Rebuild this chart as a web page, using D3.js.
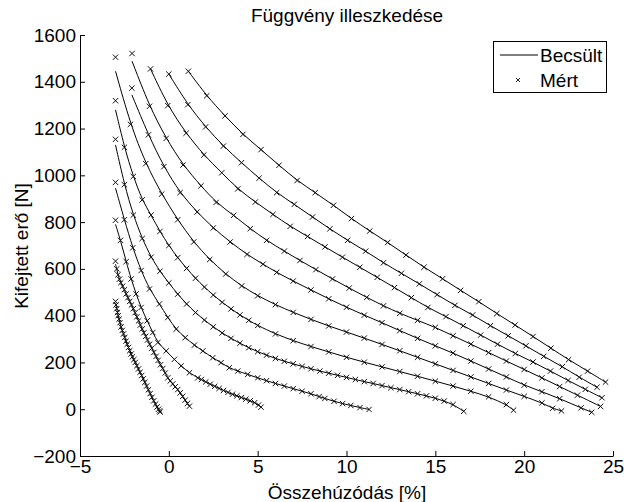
<!DOCTYPE html>
<html>
<head>
<meta charset="utf-8">
<script src="https://cdn.jsdelivr.net/npm/d3@7"></script>
<style>
  body { margin: 0; background: #fff; }
  text { font-family: "Liberation Sans", Arial, sans-serif; fill: #000; }
</style>
</head>
<body>
<script>
// measured points (Mért), one pair of arrays per pressure curve
const c1x = [1.1, 2.13, 3.16, 4.17, 5.19, 6.2, 7.22, 8.24, 9.27, 10.28, 11.31, 12.32, 13.35, 14.36, 15.41, 16.42, 17.45, 18.46, 19.49, 20.5, 21.5, 22.5, 23.57, 24.58];
const c1y = [1445, 1340, 1254, 1175, 1110, 1043, 978, 926, 872, 815, 762, 713, 659, 607, 558, 508, 460, 409, 360, 311, 261, 212, 163, 116];
const c2x = [0, 1.07, 2.07, 3.07, 4.09, 5.08, 6.07, 7.06, 8.09, 9.06, 10.06, 11.08, 12.08, 13.09, 14.1, 15.1, 16.1, 17.1, 18.1, 19.1, 20.1, 21.1, 22.15, 23.1, 24.1];
const c2y = [1433, 1302, 1207, 1125, 1054, 988, 926, 876, 822, 771, 722, 676, 626, 581, 536, 490, 444, 403, 357, 314, 271, 226, 182, 137, 94];
const c3x = [-1.03, -0.06, 0.97, 1.97, 2.98, 3.88, 4.87, 5.86, 6.83, 7.81, 8.79, 9.77, 10.75, 11.73, 12.7, 13.65, 14.58, 15.6, 16.57, 17.55, 18.5, 19.5, 20.5, 21.48, 22.47, 23.44, 24.38];
const c3y = [1455, 1298, 1180, 1087, 1011, 942, 886, 833, 782, 739, 694, 650, 607, 564, 520, 477, 435, 396, 357, 317, 278, 238, 202, 163, 123, 85, 49];
const c4x = [-2.07, -1.09, -0.15, 0.8, 1.81, 2.66, 3.65, 4.58, 5.5, 6.5, 7.38, 8.28, 9.21, 10.15, 11.14, 12.08, 13.0, 14.0, 15.0, 16.0, 17.0, 18.0, 19.0, 20.0, 21.0, 22.0, 23.0, 24.3];
const c4y = [1521, 1295, 1158, 1044, 955, 884, 829, 772, 722, 676, 636, 597, 557, 518, 478, 442, 410, 380, 350, 314, 278, 242, 206, 170, 134, 97, 60, 12];
const c5x = [-2.08, -1.15, -0.28, 0.63, 1.59, 2.5, 3.45, 4.4, 5.3, 6.07, 7.0, 8.0, 9.0, 10.0, 11.0, 12.0, 13.0, 14.0, 15.0, 16.0, 17.0, 18.0, 19.0, 20.0, 21.0, 22.0, 23.2, 23.8];
const c5y = [1373, 1173, 1037, 926, 843, 775, 715, 662, 620, 585, 548, 510, 472, 436, 402, 370, 336, 303, 271, 240, 206, 172, 138, 103, 75, 45, 6, -13];
const c6x = [-3, -2.16, -1.3, -0.4, 0.5, 1.4, 2.3, 3.2, 4.1, 5.0, 6.0, 7.0, 8.0, 9.0, 10.0, 11.0, 12.0, 13.0, 14.0, 15.0, 16.0, 17.0, 18.0, 19.0, 20.0, 21.0, 21.6, 22.1];
const c6y = [1505, 1218, 1050, 920, 810, 715, 640, 578, 527, 485, 447, 414, 384, 356, 330, 304, 277, 250, 222, 194, 166, 138, 110, 82, 55, 27, 4, -7];
const c7x = [-3, -2.5, -2, -1.5, -1, -0.5, 0, 0.5, 1, 1.5, 2, 2.5, 3, 3.5, 4, 4.5, 5, 6, 7, 8, 9, 10, 11, 12, 13, 14, 15, 16, 17, 18, 19, 19.4];
const c7y = [1319, 1120, 995, 895, 830, 760, 700, 648, 602, 560, 522, 488, 457, 429, 403, 380, 358, 322, 293, 268, 245, 222, 201, 181, 161, 141, 120, 99, 77, 53, 20, -4];
const c8x = [-3, -2.5, -2, -1.5, -1, -0.5, 0, 0.5, 1, 1.5, 2, 2.5, 3, 3.5, 4, 4.5, 5, 5.5, 6, 6.5, 7, 7.5, 8, 8.5, 9, 9.5, 10, 10.5, 11, 11.5, 12, 12.5, 13, 13.5, 14, 14.5, 15, 15.5, 16, 16.6];
const c8y = [1154, 960, 830, 730, 650, 590, 540, 492, 450, 413, 381, 352, 326, 303, 282, 263, 246, 231, 217, 205, 194, 183, 173, 163, 154, 145, 136, 127, 118, 110, 101, 92, 84, 75, 66, 57, 47, 35, 20, -9];
const c9x = [-3, -2.5, -2.03, -1.56, -1.09, -0.53, -0.06, 0.41, 0.92, 1.44, 1.91, 2.47, 2.94, 3.4, 3.88, 4.44, 5.0, 5.5, 6.0, 6.5, 7.0, 7.5, 8.0, 8.46, 8.78, 9.3, 9.78, 10.24, 10.76, 11.27];
const c9y = [970, 810, 690, 593, 514, 450, 392, 342, 306, 274, 249, 220, 199, 177, 163, 149, 134, 122, 110, 99, 88, 77, 66, 54, 46, 34, 24, 16, 7, -1];
const c10x = [-3, -2.72, -2.4, -2.12, -1.84, -1.56, -1.22, -0.9, -0.62, -0.15, 0.31, 0.69, 1.16, 1.63, 1.83, 2.08, 2.33, 2.58, 2.83, 3.08, 3.33, 3.58, 3.83, 4.08, 4.33, 4.58, 4.83, 5.05, 5.19];
const c10y = [808, 722, 631, 557, 493, 435, 378, 328, 285, 249, 213, 185, 156, 134, 127, 117, 107, 98, 89, 80, 72, 64, 57, 50, 43, 36, 28, 18, 9];
const c11x = [-3, -2.93, -2.86, -2.78, -2.7, -2.6, -2.5, -2.4, -2.3, -2.2, -2.1, -2.0, -1.9, -1.8, -1.7, -1.6, -1.5, -1.4, -1.3, -1.2, -1.08, -0.96, -0.84, -0.72, -0.6, -0.47, -0.34, -0.2, -0.06, 0.08, 0.22, 0.36, 0.5, 0.64, 0.78, 0.92, 1.05, 1.16];
const c11y = [633, 600, 575, 556, 541, 526, 511, 493, 477, 461, 446, 430, 413, 395, 378, 360, 343, 327, 312, 296, 278, 261, 243, 226, 209, 190, 174, 155, 134, 121, 108, 96, 84, 70, 55, 39, 25, 13];
const c12x = [-3, -2.97, -2.93, -2.89, -2.85, -2.8, -2.75, -2.69, -2.62, -2.55, -2.48, -2.41, -2.34, -2.27, -2.2, -2.12, -2.05, -1.97, -1.89, -1.8, -1.71, -1.62, -1.53, -1.44, -1.35, -1.25, -1.15, -1.05, -0.95, -0.85, -0.75, -0.66, -0.58, -0.52, -0.49];
const c12y = [461, 446, 430, 414, 400, 385, 370, 352, 337, 322, 307, 291, 278, 264, 250, 236, 224, 212, 200, 186, 172, 158, 144, 130, 115, 99, 83, 67, 51, 36, 22, 10, 0, -7, -12];

// where the fitted (Becsült) line starts, below the first measured point
const fitStartY = [1445, 1433, 1455, 1488, 1344, 1445, 1280, 1130, 945, 790, 620, 455];

const xTicks = [-5, 0, 5, 10, 15, 20, 25];
const yTicks = [-200, 0, 200, 400, 600, 800, 1000, 1200, 1400, 1600];
const legendLabels = ["Becsült", "Mért"];

const curves = [
  [c1x, c1y], [c2x, c2y], [c3x, c3y], [c4x, c4y], [c5x, c5y], [c6x, c6y],
  [c7x, c7y], [c8x, c8y], [c9x, c9y], [c10x, c10y], [c11x, c11y], [c12x, c12y]
];

const w = 624, h = 502;
const svg = d3.select("body").append("svg")
  .attr("width", w)
  .attr("height", h);

const x = d3.scaleLinear().domain([-5, 25]).range([80, 613]);
const y = d3.scaleLinear().domain([-200, 1600]).range([456, 35]);

const minus = v => String(v).replace("-", "\u2212");

// fitted lines
const line = d3.line()
  .x(d => x(d[0]))
  .y(d => y(d[1]))
  .curve(d3.curveBasis);

curves.forEach(([cx, cy], i) => {
  const pts = cx.map((v, j) => [v, j === 0 ? fitStartY[i] : cy[j]]);
  svg.append("path")
    .datum(pts)
    .attr("d", line)
    .attr("fill", "none")
    .attr("stroke", "#000")
    .attr("stroke-width", 1);
});

// measured markers
const cross = "M-2.7,-2.7L2.7,2.7M-2.7,2.7L2.7,-2.7";
curves.forEach(([cx, cy]) => {
  svg.append("g").selectAll("path")
    .data(cx.map((v, j) => [v, cy[j]]))
    .join("path")
    .attr("transform", d => "translate(" + x(d[0]) + "," + y(d[1]) + ")")
    .attr("d", cross)
    .attr("stroke", "#111")
    .attr("stroke-width", 1);
});

// axes
const xAxis = svg.append("g")
  .attr("transform", "translate(0," + y(-200) + ")")
  .call(d3.axisBottom(x).tickValues(xTicks).tickSize(-5).tickSizeOuter(0).tickPadding(4).tickFormat(minus));

const yAxis = svg.append("g")
  .attr("transform", "translate(" + x(-5) + ",0)")
  .call(d3.axisLeft(y).tickValues(yTicks).tickSize(-5).tickSizeOuter(0).tickPadding(4).tickFormat(minus));

[xAxis, yAxis].forEach(a => {
  a.selectAll("text").attr("font-size", 19).attr("font-family", "Liberation Sans, Arial, sans-serif");
  a.selectAll("line, path").attr("stroke", "#000");
});

svg.append("text")
  .attr("x", 347).attr("y", 22)
  .attr("text-anchor", "middle")
  .attr("font-size", 19)
  .text("Függvény illeszkedése");

svg.append("text")
  .attr("x", 347).attr("y", 499)
  .attr("text-anchor", "middle")
  .attr("font-size", 19)
  .text("Összehúzódás [%]");

svg.append("text")
  .attr("transform", "translate(28,246) rotate(-90)")
  .attr("text-anchor", "middle")
  .attr("font-size", 19)
  .text("Kifejtett erő [N]");

// legend
const lg = svg.append("g");
lg.append("rect")
  .attr("x", 493.5).attr("y", 41.5)
  .attr("width", 113).attr("height", 51)
  .attr("fill", "#fff").attr("stroke", "#000").attr("stroke-width", 1);
lg.append("line")
  .attr("x1", 500).attr("x2", 538).attr("y1", 55).attr("y2", 55)
  .attr("stroke", "#000");
lg.append("path")
  .attr("transform", "translate(518,80)")
  .attr("d", "M-2,-2L2,2M-2,2L2,-2")
  .attr("stroke", "#222");
lg.selectAll("text.lab")
  .data(legendLabels)
  .join("text")
  .attr("class", "lab")
  .attr("x", 540)
  .attr("y", (d, i) => 62 + i * 25)
  .attr("font-size", 19)
  .text(d => d);
</script>
</body>
</html>
